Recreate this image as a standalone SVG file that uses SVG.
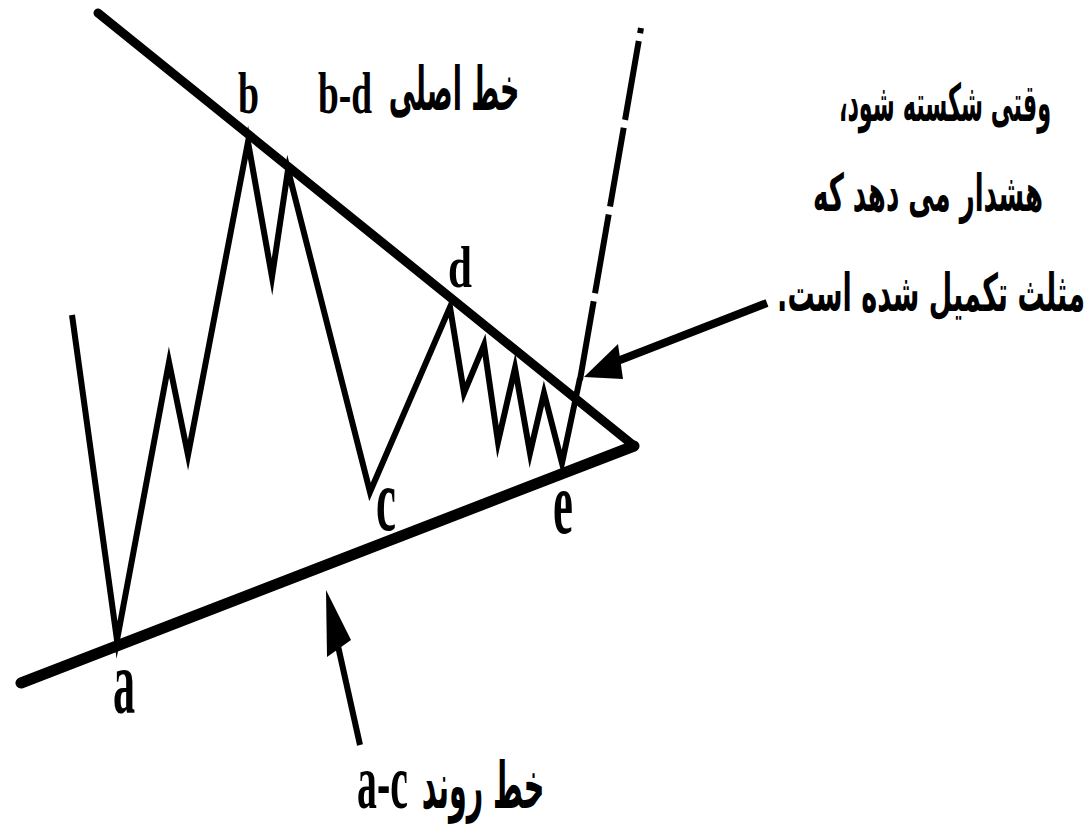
<svg xmlns="http://www.w3.org/2000/svg" width="1087" height="833" viewBox="0 0 1087 833">
<style>
.ln{fill:none;stroke:#000;stroke-linecap:round}
.zz{fill:none;stroke:#000;stroke-width:6;stroke-linejoin:miter;stroke-miterlimit:12}
.dash{fill:none;stroke:#000;stroke-width:6;stroke-dasharray:80 8}
.lat{font-family:"Liberation Serif","Times New Roman",serif;font-weight:bold;fill:#000}
.fa{font-family:"DejaVu Sans",sans-serif;font-weight:bold;fill:#000;text-anchor:middle}
.head{fill:#000}
.shaft{stroke:#000;fill:none}
</style>
<rect width="1087" height="833" fill="#fff"/>
<g id="trendlines">
<line id="line-bd" class="ln" x1="98" y1="13" x2="633" y2="445" stroke-width="9"/>
<line id="line-ac" class="ln" x1="21" y1="683" x2="634" y2="446" stroke-width="11"/>
</g>
<g id="price">
<polyline class="zz" points="72,315 117,640 169,362 188,455 248,142 272,277 288,170 370,492 450,307 464,393 484,345 498,442 515,368 530,453 544,393 562,463 580,378"/>
<line class="dash" x1="580" y1="380" x2="641" y2="28"/>
</g>
<g id="connectors">
<g id="arrow-ac">
<line class="shaft" x1="360" y1="745" x2="338" y2="646" stroke-width="6"/>
<polygon class="head" points="326,590 327,657 351,640"/>
</g>
<g id="arrow-break">
<line class="shaft" x1="767" y1="303" x2="615" y2="362" stroke-width="8"/>
<polygon class="head" points="584,377 618,344 623,379"/>
</g>
</g>
<g id="labels">
<text class="lat" transform="translate(238,113) scale(0.64,1)" font-size="59">b</text>
<text class="lat" transform="translate(318,113) scale(0.633,1)" font-size="59">b-d</text>
<text class="lat" transform="translate(448,287) scale(0.73,1)" font-size="59">d</text>
<text class="lat" transform="translate(376,530) scale(0.51,1)" font-size="88">c</text>
<text class="lat" transform="translate(553,533) scale(0.51,1)" font-size="88">e</text>
<text class="lat" transform="translate(113,713) scale(0.48,1)" font-size="92">a</text>
<text class="lat" transform="translate(357,808) scale(0.51,1)" font-size="78">a-c</text>
<text class="fa" direction="rtl" transform="translate(454,110) scale(0.44,1)" font-size="61">خط اصلی</text>
<text class="fa" direction="rtl" transform="translate(483,808) scale(0.44,1)" font-size="65">خط روند</text>
<text class="fa" direction="rtl" transform="translate(945,121) scale(0.43,1)" font-size="52">وقتی شکسته شود،</text>
<text class="fa" direction="rtl" transform="translate(928,211) scale(0.5,1)" font-size="52">هشدار می دهد که</text>
<text class="fa" direction="rtl" transform="translate(931,311) scale(0.52,1)" font-size="52">مثلث تکمیل شده است.</text>
</g>
</svg>
